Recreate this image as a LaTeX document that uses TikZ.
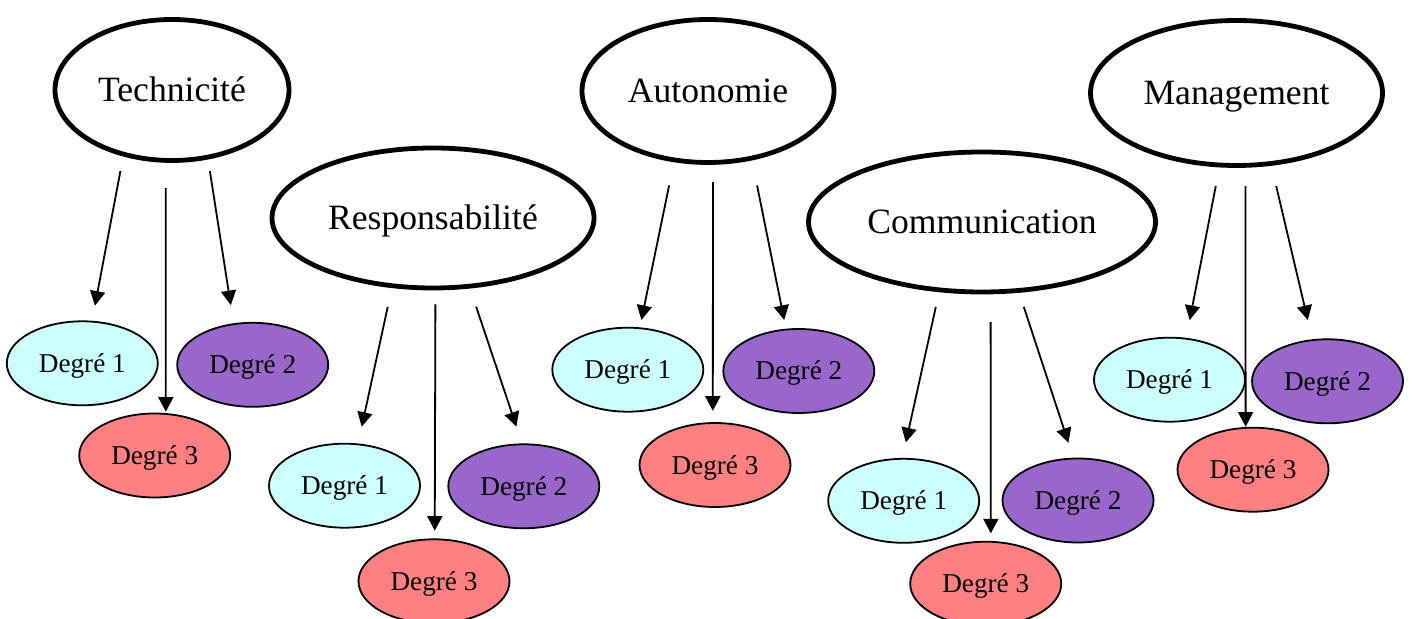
\documentclass[tikz,border=0pt]{standalone}
\usepackage{fontspec}
\setmainfont{Liberation Serif}
\usetikzlibrary{arrows.meta,shapes.geometric}

\definecolor{cyanpale}{RGB}{204,255,255}
\definecolor{violet}{RGB}{153,102,204}
\definecolor{saumon}{RGB}{255,128,128}

\begin{document}
\begin{tikzpicture}[x=0.5pt,y=-0.5pt]
  \tikzset{theme/.style={draw,ellipse,line width=2.4pt,inner sep=0pt,outer sep=0pt,text height=11.8pt,text depth=0pt,font=\fontsize{17.8}{20}\selectfont}}
  \tikzset{degre/.style={draw,ellipse,line width=0.9pt,fill=#1,minimum width=75.5pt,minimum height=42pt,inner sep=0pt,outer sep=0pt,text height=9pt,text depth=0pt,font=\fontsize{13.6}{16}\selectfont}}
  \tikzset{fleche/.style={-{Triangle[length=7.3pt,width=7.5pt]},line width=0.9pt}}

  \useasboundingbox (0,0) rectangle (1412,619);

  \node [theme,minimum width=117pt,minimum height=70.5pt] (T) at (172,90) {Technicité};
  \node [theme,minimum width=161pt,minimum height=70pt] (R) at (433,218) {Responsabilité};
  \node [theme,minimum width=126pt,minimum height=71.5pt] (A) at (708,91) {Autonomie};
  \node [theme,minimum width=173.5pt,minimum height=70pt] (C) at (982,222) {Communication};
  \node [theme,minimum width=146pt,minimum height=72.5pt] (M) at (1236.5,93) {Management};

  \node [degre = cyanpale] (T1) at (82.3,363.3) {Degré 1};
  \node [degre = violet] (T2) at (252.7,364.8) {Degré 2};
  \node [degre = saumon] (T3) at (154.7,455.5) {Degré 3};

  \node [degre = cyanpale] (R1) at (344.5,485.7) {Degré 1};
  \node [degre = violet] (R2) at (523.8,486.3) {Degré 2};
  \node [degre = saumon] (R3) at (434,581.3) {Degré 3};

  \node [degre = cyanpale] (A1) at (627.8,369.7) {Degré 1};
  \node [degre = violet] (A2) at (798.8,371) {Degré 2};
  \node [degre = saumon] (A3) at (715,465) {Degré 3};

  \node [degre = cyanpale] (C1) at (903.7,500.8) {Degré 1};
  \node [degre = violet] (C2) at (1078,500.5) {Degré 2};
  \node [degre = saumon] (C3) at (985.7,583.7) {Degré 3};

  \node [degre = cyanpale] (M1) at (1169.5,379.7) {Degré 1};
  \node [degre = violet] (M2) at (1327.5,381.3) {Degré 2};
  \node [degre = saumon] (M3) at (1253,469.7) {Degré 3};

  \draw [fleche,shorten <=8.6pt,shorten >=8.1pt] (T.233) -- (T1.77);
  \draw [fleche,shorten <=13.7pt,shorten >=1.1pt] (T.265) -- (T3.75);
  \draw [fleche,shorten <=7.1pt,shorten >=9.6pt] (T.298) -- (T2.115);

  \draw [fleche,shorten <=10.8pt,shorten >=9pt] (R.239) -- (R1.72);
  \draw [fleche,shorten <=8.2pt,shorten >=4.3pt] (R.272) -- (R3.89);
  \draw [fleche,shorten <=10.8pt,shorten >=9.3pt] (R.298) -- (R2.92);

  \draw [fleche,shorten <=13pt,shorten >=4.2pt] (A.244) -- (A1.74);
  \draw [fleche,shorten <=9.9pt,shorten >=6.1pt] (A.274) -- (A3.93);
  \draw [fleche,shorten <=14pt,shorten >=4.9pt] (A.303) -- (A2.107);

  \draw [fleche,shorten <=8.7pt,shorten >=8.4pt] (C.238) -- (C1.92);
  \draw [fleche,shorten <=15pt,shorten >=4.2pt] (C.277) -- (C3.83);
  \draw [fleche,shorten <=8.6pt,shorten >=8.3pt] (C.298) -- (C2.96);

  \draw [fleche,shorten <=10.7pt,shorten >=9.5pt] (M.257) -- (M1.68);
  \draw [fleche,shorten <=10.4pt,shorten >=0.6pt] (M.277) -- (M3.100);
  \draw [fleche,shorten <=11.6pt,shorten >=10.3pt] (M.296) -- (M2.110);
\end{tikzpicture}
\end{document}
